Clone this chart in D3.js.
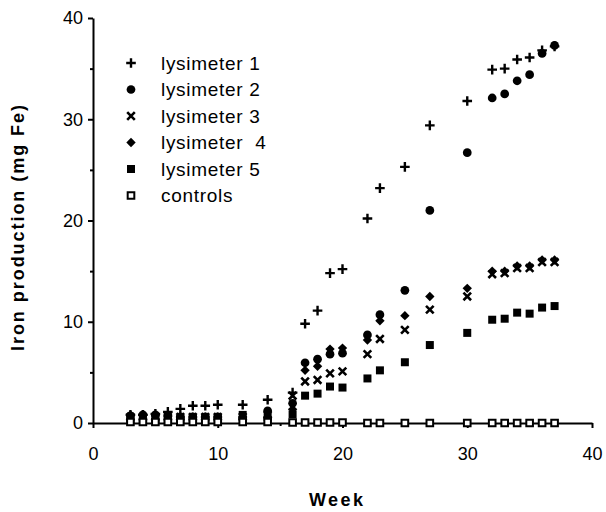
<!DOCTYPE html>
<html>
<head>
<meta charset="utf-8">
<script src="https://cdn.jsdelivr.net/npm/d3@7"></script>
<style>
  html, body { margin: 0; padding: 0; background: #fff; }
  svg { display: block; font-family: "Liberation Sans", Arial, Helvetica, sans-serif; }
  .legend text { white-space: pre; }
</style>
</head>
<body>
<svg id="chart" width="606" height="512"></svg>
<script>
// Sampling weeks
const weeks = [3,4,5,6,7,8,9,10,12,14,16,17,18,19,20,22,23,25,27,30,32,33,34,35,36,37];

// Cumulative iron production (mg Fe) per lysimeter
const lysimeter1 = [0.8,0.8,0.9,1.1,1.4,1.7,1.7,1.8,1.8,2.3,3.0,9.8,11.1,14.8,15.2,20.2,23.2,25.3,29.4,31.8,34.9,35.0,35.9,36.1,36.8,37.2];
const lysimeter2 = [0.7,0.8,0.8,0.7,0.6,0.6,0.6,0.6,0.5,1.2,1.95,5.95,6.3,6.8,6.9,8.7,10.7,13.1,21.0,26.7,32.1,32.5,33.8,34.4,36.5,37.3];
const lysimeter3 = [0.6,0.6,0.6,0.6,0.6,0.6,0.6,0.6,0.6,0.8,2.7,4.1,4.25,4.9,5.1,6.8,8.3,9.2,11.2,12.5,14.7,14.8,15.3,15.3,15.9,15.9];
const lysimeter4 = [0.8,0.8,0.8,0.7,0.6,0.6,0.6,0.6,0.6,0.6,1.35,5.2,5.6,7.3,7.4,8.2,10.1,10.6,12.5,13.3,15.0,15.0,15.5,15.5,16.1,16.1];
const lysimeter5 = [0.4,0.4,0.4,0.4,0.4,0.5,0.5,0.5,0.8,0.6,0.85,2.7,2.9,3.6,3.5,4.4,5.2,6.0,7.7,8.9,10.2,10.3,10.9,10.8,11.4,11.55];
const controls   = [0.1,0.1,0.1,0.1,0.1,0.1,0.1,0.1,0.1,0.1,0.05,0.05,0.05,0.05,0.05,0,0,0,0,0,0,0,0,0,0,0];

const seriesNames = ["lysimeter 1", "lysimeter 2", "lysimeter 3", "lysimeter  4", "lysimeter 5", "controls"];
const seriesValues = [lysimeter1, lysimeter2, lysimeter3, lysimeter4, lysimeter5, controls];
const seriesMarkers = ["plus", "circle", "cross", "diamond", "square", "openSquare"];

const xTicks = [0, 10, 20, 30, 40];
const yTicks = [0, 10, 20, 30, 40];
const minorTicks = [5, 15, 25, 35];

const svg = d3.select("#chart");

const x = d3.scaleLinear().domain([0, 40]).range([93, 592]);
const y = d3.scaleLinear().domain([0, 40]).range([423, 18]);

// Square-proportioned diamond for lysimeter 4
const squareDiamond = {
  draw(context, size) {
    const r = Math.sqrt(size / 2);
    context.moveTo(0, -r);
    context.lineTo(r, 0);
    context.lineTo(0, r);
    context.lineTo(-r, 0);
    context.closePath();
  }
};

// Appends the marker for one series into a positioned group
function drawMarker(g, type) {
  switch (type) {
    case "plus":
      g.append("path").attr("d", "M-4.8,0H4.8M0,-4.8V4.8")
        .attr("stroke", "#000").attr("stroke-width", 2.4).attr("fill", "none");
      break;
    case "cross":
      g.append("path").attr("d", "M-3.8,-3.8L3.8,3.8M-3.8,3.8L3.8,-3.8")
        .attr("stroke", "#000").attr("stroke-width", 2.6).attr("fill", "none");
      break;
    case "circle":
      g.append("path").attr("d", d3.symbol().type(d3.symbolCircle).size(60)())
        .attr("fill", "#000");
      break;
    case "diamond":
      g.append("path").attr("d", d3.symbol().type(squareDiamond).size(44)())
        .attr("fill", "#000");
      break;
    case "square":
      g.append("path").attr("d", d3.symbol().type(d3.symbolSquare).size(64)())
        .attr("fill", "#000");
      break;
    case "openSquare":
      g.append("path").attr("d", d3.symbol().type(d3.symbolSquare).size(44)())
        .attr("fill", "#fff").attr("stroke", "#000").attr("stroke-width", 2);
      break;
  }
}

// Axes
const axisStyle = sel => {
  sel.selectAll("path.domain").attr("stroke", "#000").attr("stroke-width", 2);
  sel.selectAll(".tick line").attr("stroke", "#000").attr("stroke-width", 2);
  sel.selectAll(".tick text").attr("fill", "#000").attr("font-size", 18)
     .attr("font-family", "'Liberation Sans', Arial, Helvetica, sans-serif");
};

svg.append("g")
  .attr("transform", `translate(0,${y(0)})`)
  .call(d3.axisBottom(x).tickValues(xTicks).tickSize(5).tickSizeOuter(0).tickPadding(19))
  .call(axisStyle);

svg.append("g")
  .attr("transform", `translate(0,${y(0)})`)
  .call(d3.axisBottom(x).tickValues(minorTicks).tickSize(3).tickSizeOuter(0).tickFormat(""))
  .call(sel => sel.select("path.domain").remove())
  .call(axisStyle);

svg.append("g")
  .attr("transform", `translate(${x(0)},0)`)
  .call(d3.axisLeft(y).tickValues(yTicks).tickSize(5).tickSizeOuter(0).tickPadding(5))
  .call(axisStyle);

svg.append("g")
  .attr("transform", `translate(${x(0)},0)`)
  .call(d3.axisLeft(y).tickValues(minorTicks).tickSize(3).tickSizeOuter(0).tickFormat(""))
  .call(sel => sel.select("path.domain").remove())
  .call(axisStyle);

// Axis titles
svg.append("text")
  .attr("x", 336).attr("y", 506)
  .attr("text-anchor", "middle")
  .attr("font-size", 18).attr("font-weight", "bold")
  .attr("textLength", 54).attr("lengthAdjust", "spacing")
  .text("Week");

svg.append("text")
  .attr("transform", "translate(18,228) rotate(-90)")
  .attr("text-anchor", "middle").attr("dominant-baseline", "central")
  .attr("font-size", 18).attr("font-weight", "bold")
  .attr("textLength", 246).attr("lengthAdjust", "spacing")
  .text("Iron production (mg Fe)");

// Data points
seriesValues.forEach((vals, i) => {
  const g = svg.append("g").attr("class", "series");
  weeks.forEach((w, j) => {
    const m = g.append("g").attr("transform", `translate(${x(w)},${y(vals[j])})`);
    drawMarker(m, seriesMarkers[i]);
  });
});

// Legend
const legendRows = [63, 89.5, 116, 142.5, 169, 195.5];
const legend = svg.append("g").attr("class", "legend");
seriesNames.forEach((name, i) => {
  const row = legend.append("g").attr("transform", `translate(131,${legendRows[i]})`);
  drawMarker(row, seriesMarkers[i]);
  row.append("text")
    .attr("x", 30).attr("y", 0)
    .attr("dominant-baseline", "central")
    .attr("font-size", 19)
    .attr("letter-spacing", 0.7)
    .attr("fill", "#000")
    .text(name);
});
</script>
</body>
</html>
